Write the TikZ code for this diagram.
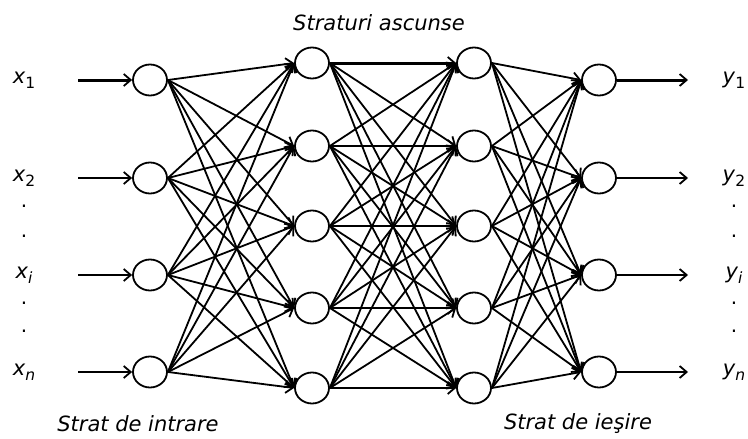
\documentclass[tikz,border=0pt]{standalone}
\usepackage{fontspec}
\setmainfont{DejaVu Sans}
\usetikzlibrary{arrows.meta,shapes.geometric}
\newcommand{\lbl}[2]{\textit{#1}\raisebox{-0.45ex}{\fontsize{15.5}{15.5}\selectfont #2}}
\tikzset{
  neuron/.style={draw, ellipse, line width=1.8pt, minimum width=34pt, minimum height=31pt, inner sep=0pt},
  conn/.style={line width=1.8pt, -{Straight Barb[length=7pt,width=12pt,line width=1.8pt]}},
  thickconn/.style={conn, line width=3pt},
  lab/.style={font=\fontsize{21}{21}\selectfont, inner sep=0pt},
  captext/.style={font=\fontsize{21}{22}\selectfont\itshape, inner sep=0pt},
  dottext/.style={font=\fontsize{20}{20}\selectfont, inner sep=0pt}
}
\begin{document}
\begin{tikzpicture}[x=1pt,y=-1pt]
\useasboundingbox (0,0) rectangle (748,439);
% input layer
\foreach \i/\y in {1/80,2/178,3/275,4/372} {
  \node[neuron] (i\i) at (150,\y) {};
  \node[neuron] (o\i) at (599,\y) {};
  \coordinate (s\i) at (78,\y);
  \coordinate (e\i) at (688,\y);
}
\foreach \i/\y in {1/63,2/146,3/226,4/308,5/388} {
  \node[neuron] (a\i) at (312,\y) {};
  \node[neuron] (b\i) at (474,\y) {};
}
% labels
\node[lab] (lx1) at (24,80) {\lbl{x}{1}};
\node[lab] (lx2) at (24,178) {\lbl{x}{2}};
\node[lab] (lxi) at (24,275) {\lbl{x}{\textit{i}}};
\node[lab] (lxn) at (24,372) {\lbl{x}{\textit{n}}};
\node[lab] (ly1) at (734,80) {\lbl{y}{1}};
\node[lab] (ly2) at (734,178) {\lbl{y}{2}};
\node[lab] (lyi) at (734,275) {\lbl{y}{\textit{i}}};
\node[lab] (lyn) at (734,372) {\lbl{y}{\textit{n}}};
\foreach \y [count=\k] in {206,236,303,331} {
  \node[dottext] (dl\k) at (24,\y) {.};
  \node[dottext] (dr\k) at (734,\y) {.};
}
\node[captext] (t1) at (379,23) {Straturi ascunse};
\node[captext] (t2) at (138,424) {Strat de intrare};
\node[captext] (t3) at (578,424) {Strat de ieşire};
% input/output arrows
\draw[thickconn] (s1) -- (i1.west);
\foreach \i in {2,3,4} \draw[conn] (s\i) -- (i\i.west);
\draw[thickconn] (o1.east) -- (e1);
\foreach \i in {2,3,4} \draw[conn] (o\i.east) -- (e\i);
% connections
\foreach \i in {1,...,4} \foreach \j in {1,...,5} \draw[conn] (i\i.east) -- (a\j.west);
\foreach \i in {1,...,5} \foreach \j in {1,...,5} {
  \ifnum\i=1 \ifnum\j=1 \else \draw[conn] (a\i.east) -- (b\j.west); \fi
  \else \draw[conn] (a\i.east) -- (b\j.west); \fi
}
\draw[thickconn] (a1.east) -- (b1.west);
\foreach \i in {1,...,5} \foreach \j in {1,...,4} \draw[conn] (b\i.east) -- (o\j.west);
\end{tikzpicture}
\end{document}
